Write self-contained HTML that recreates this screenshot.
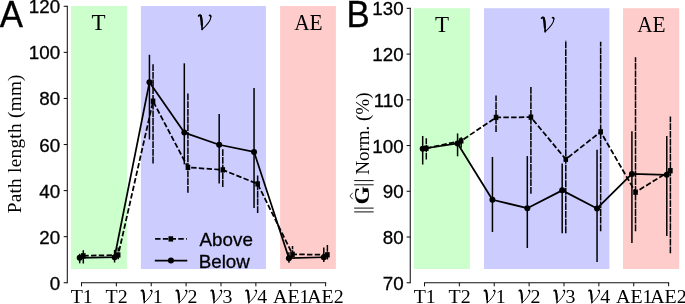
<!DOCTYPE html>
<html><head><meta charset="utf-8"><title>Figure</title>
<style>html,body{margin:0;padding:0;background:#fff}svg{display:block;will-change:transform}text{font-family:"Liberation Sans",sans-serif;fill:#000}.sn,.lg,.pl{stroke:#000;stroke-width:0.3px}.sn{font-size:18.8px}.lg{font-size:18.8px}.pl{font-size:34.8px}.sr{font-family:"Liberation Serif",serif;font-size:19.3px}.sb{font-family:"Liberation Serif",serif;font-size:23px}.yl{font-family:"Liberation Serif",serif;font-size:19.2px}</style></head><body>
<svg width="685" height="304" viewBox="0 0 685 304">
<rect width="685" height="304" fill="#fff"/>
<rect x="70.9" y="6.04" width="56" height="262.96" fill="#ccffcc"/>
<rect x="140.9" y="6.04" width="125.05" height="262.96" fill="#ccccff"/>
<rect x="280.1" y="6.04" width="55.8" height="262.96" fill="#ffcccc"/>
<path d="M67.3,5.75 V283.3" stroke="#111" stroke-width="1.05" fill="none"/>
<path d="M80.95,282.75 H326.14" stroke="#111" stroke-width="1.05" fill="none"/>
<path d="M67.3,282.75 h-3.6" stroke="#111" stroke-width="1.05"/>
<text transform="translate(60.2 289.75) scale(1 0.99)" text-anchor="end" class="sn">0</text>
<path d="M67.3,236.68 h-3.6" stroke="#111" stroke-width="1.05"/>
<text transform="translate(60.2 243.68) scale(1 0.99)" text-anchor="end" class="sn">20</text>
<path d="M67.3,190.6 h-3.6" stroke="#111" stroke-width="1.05"/>
<text transform="translate(60.2 197.6) scale(1 0.99)" text-anchor="end" class="sn">40</text>
<path d="M67.3,144.53 h-3.6" stroke="#111" stroke-width="1.05"/>
<text transform="translate(60.2 151.53) scale(1 0.99)" text-anchor="end" class="sn">60</text>
<path d="M67.3,98.45 h-3.6" stroke="#111" stroke-width="1.05"/>
<text transform="translate(60.2 105.45) scale(1 0.99)" text-anchor="end" class="sn">80</text>
<path d="M67.3,52.38 h-3.6" stroke="#111" stroke-width="1.05"/>
<text transform="translate(60.2 59.38) scale(1 0.99)" text-anchor="end" class="sn">100</text>
<path d="M67.3,6.3 h-3.6" stroke="#111" stroke-width="1.05"/>
<text transform="translate(60.2 13.3) scale(1 0.99)" text-anchor="end" class="sn">120</text>
<path d="M81.5,282.75 v3.6" stroke="#111" stroke-width="1.05"/>
<path d="M116.37,282.75 v3.6" stroke="#111" stroke-width="1.05"/>
<path d="M151.24,282.75 v3.6" stroke="#111" stroke-width="1.05"/>
<path d="M186.11,282.75 v3.6" stroke="#111" stroke-width="1.05"/>
<path d="M220.98,282.75 v3.6" stroke="#111" stroke-width="1.05"/>
<path d="M255.85,282.75 v3.6" stroke="#111" stroke-width="1.05"/>
<path d="M290.72,282.75 v3.6" stroke="#111" stroke-width="1.05"/>
<path d="M325.59,282.75 v3.6" stroke="#111" stroke-width="1.05"/>
<path d="M83.3,263.5 V250.19" stroke="#000" stroke-width="1.5" fill="none" stroke-dasharray="6.8 0.9"/>
<path d="M118.17,259.26 V247.38" stroke="#000" stroke-width="1.5" fill="none" stroke-dasharray="6.8 0.9"/>
<path d="M153.04,163.42 V63.77" stroke="#000" stroke-width="1.5" fill="none" stroke-dasharray="6.8 0.9"/>
<path d="M187.91,192.68 V93.26" stroke="#000" stroke-width="1.5" fill="none" stroke-dasharray="6.8 0.9"/>
<path d="M222.78,186.92 V148.78" stroke="#000" stroke-width="1.5" fill="none" stroke-dasharray="6.8 0.9"/>
<path d="M257.65,213.07 V174.7" stroke="#000" stroke-width="1.5" fill="none" stroke-dasharray="6.8 0.9"/>
<path d="M292.52,256.96 V245.88" stroke="#000" stroke-width="1.5" fill="none" stroke-dasharray="6.8 0.9"/>
<path d="M327.39,259.49 V244.73" stroke="#000" stroke-width="1.5" fill="none" stroke-dasharray="6.8 0.9"/>
<path d="M83.3,255.8 L118.17,254.99 L153.04,101.21 L187.91,167.33 L222.78,169.87 L257.65,183.92 L292.52,254.3 L327.39,254.81" stroke="#000" stroke-width="1.75" fill="none" stroke-linejoin="round" stroke-dasharray="5.45 2.28"/>
<rect x="81" y="253.15" width="4.6" height="5.3"/>
<rect x="115.87" y="252.34" width="4.6" height="5.3"/>
<rect x="150.74" y="98.56" width="4.6" height="5.3"/>
<rect x="185.61" y="164.68" width="4.6" height="5.3"/>
<rect x="220.48" y="167.22" width="4.6" height="5.3"/>
<rect x="255.35" y="181.27" width="4.6" height="5.3"/>
<rect x="290.22" y="251.65" width="4.6" height="5.3"/>
<rect x="325.09" y="252.16" width="4.6" height="5.3"/>
<path d="M79.7,263.31 V253.79" stroke="#000" stroke-width="1.5" fill="none"/>
<path d="M114.57,262.48 V249.9" stroke="#000" stroke-width="1.5" fill="none"/>
<path d="M149.44,139.46 V54.79" stroke="#000" stroke-width="1.5" fill="none"/>
<path d="M184.31,164.34 V63.32" stroke="#000" stroke-width="1.5" fill="none"/>
<path d="M219.18,183.46 V114.12" stroke="#000" stroke-width="1.5" fill="none"/>
<path d="M254.05,207.88 V88.08" stroke="#000" stroke-width="1.5" fill="none"/>
<path d="M288.92,262.71 V252.34" stroke="#000" stroke-width="1.5" fill="none"/>
<path d="M323.79,262.02 V247.39" stroke="#000" stroke-width="1.5" fill="none"/>
<path d="M79.7,257.87 L114.57,257.18 L149.44,82.32 L184.31,132.55 L219.18,144.76 L254.05,151.9 L288.92,258.19 L323.79,257.25" stroke="#000" stroke-width="1.75" fill="none" stroke-linejoin="round"/>
<circle cx="79.7" cy="257.87" r="3"/>
<circle cx="114.57" cy="257.18" r="3"/>
<circle cx="149.44" cy="82.32" r="3"/>
<circle cx="184.31" cy="132.55" r="3"/>
<circle cx="219.18" cy="144.76" r="3"/>
<circle cx="254.05" cy="151.9" r="3"/>
<circle cx="288.92" cy="258.19" r="3"/>
<circle cx="323.79" cy="257.25" r="3"/>
<rect x="413.9" y="8.2" width="56.05" height="260.8" fill="#ccffcc"/>
<rect x="484" y="8.2" width="125.4" height="260.8" fill="#ccccff"/>
<rect x="623" y="8.2" width="56.2" height="260.8" fill="#ffcccc"/>
<path d="M410.25,7.8 V283.3" stroke="#111" stroke-width="1.05" fill="none"/>
<path d="M423.95,282.75 H669.14" stroke="#111" stroke-width="1.05" fill="none"/>
<path d="M410.25,282.75 h-3.6" stroke="#111" stroke-width="1.05"/>
<text transform="translate(403.65 289.85) scale(1 0.99)" text-anchor="end" class="sn">70</text>
<path d="M410.25,237.02 h-3.6" stroke="#111" stroke-width="1.05"/>
<text transform="translate(403.65 244.12) scale(1 0.99)" text-anchor="end" class="sn">80</text>
<path d="M410.25,191.28 h-3.6" stroke="#111" stroke-width="1.05"/>
<text transform="translate(403.65 198.38) scale(1 0.99)" text-anchor="end" class="sn">90</text>
<path d="M410.25,145.55 h-3.6" stroke="#111" stroke-width="1.05"/>
<text transform="translate(403.65 152.65) scale(1 0.99)" text-anchor="end" class="sn">100</text>
<path d="M410.25,99.82 h-3.6" stroke="#111" stroke-width="1.05"/>
<text transform="translate(403.65 106.92) scale(1 0.99)" text-anchor="end" class="sn">110</text>
<path d="M410.25,54.08 h-3.6" stroke="#111" stroke-width="1.05"/>
<text transform="translate(403.65 61.18) scale(1 0.99)" text-anchor="end" class="sn">120</text>
<path d="M410.25,8.35 h-3.6" stroke="#111" stroke-width="1.05"/>
<text transform="translate(403.65 15.45) scale(1 0.99)" text-anchor="end" class="sn">130</text>
<path d="M424.5,282.75 v3.6" stroke="#111" stroke-width="1.05"/>
<path d="M459.37,282.75 v3.6" stroke="#111" stroke-width="1.05"/>
<path d="M494.24,282.75 v3.6" stroke="#111" stroke-width="1.05"/>
<path d="M529.11,282.75 v3.6" stroke="#111" stroke-width="1.05"/>
<path d="M563.98,282.75 v3.6" stroke="#111" stroke-width="1.05"/>
<path d="M598.85,282.75 v3.6" stroke="#111" stroke-width="1.05"/>
<path d="M633.72,282.75 v3.6" stroke="#111" stroke-width="1.05"/>
<path d="M668.59,282.75 v3.6" stroke="#111" stroke-width="1.05"/>
<path d="M426.3,159.6 V138.31" stroke="#000" stroke-width="1.5" fill="none" stroke-dasharray="6.8 0.9"/>
<path d="M461.17,147.71 V137.21" stroke="#000" stroke-width="1.5" fill="none" stroke-dasharray="6.8 0.9"/>
<path d="M496.04,132.07 V95.46" stroke="#000" stroke-width="1.5" fill="none" stroke-dasharray="6.8 0.9"/>
<path d="M530.91,193.81 V86.77" stroke="#000" stroke-width="1.5" fill="none" stroke-dasharray="6.8 0.9"/>
<path d="M565.78,233.14 V40.49" stroke="#000" stroke-width="1.5" fill="none" stroke-dasharray="6.8 0.9"/>
<path d="M600.65,231.31 V41.81" stroke="#000" stroke-width="1.5" fill="none" stroke-dasharray="6.8 0.9"/>
<path d="M635.52,231.31 V57.27" stroke="#000" stroke-width="1.5" fill="none" stroke-dasharray="6.8 0.9"/>
<path d="M670.39,253.27 V116.5" stroke="#000" stroke-width="1.5" fill="none" stroke-dasharray="6.8 0.9"/>
<path d="M426.3,148.29 L461.17,140.89 L496.04,117.42 L530.91,117.2 L565.78,159.27 L600.65,131.83 L635.52,192.2 L670.39,170.7" stroke="#000" stroke-width="1.75" fill="none" stroke-linejoin="round" stroke-dasharray="5.45 2.28"/>
<rect x="424" y="145.64" width="4.6" height="5.3"/>
<rect x="458.87" y="138.24" width="4.6" height="5.3"/>
<rect x="493.74" y="114.77" width="4.6" height="5.3"/>
<rect x="528.61" y="114.55" width="4.6" height="5.3"/>
<rect x="563.48" y="156.62" width="4.6" height="5.3"/>
<rect x="598.35" y="129.18" width="4.6" height="5.3"/>
<rect x="633.22" y="189.55" width="4.6" height="5.3"/>
<rect x="668.09" y="168.05" width="4.6" height="5.3"/>
<path d="M422.7,164.53 V135.95" stroke="#000" stroke-width="1.5" fill="none"/>
<path d="M457.57,156.3 V133.43" stroke="#000" stroke-width="1.5" fill="none"/>
<path d="M492.44,231.99 V156.98" stroke="#000" stroke-width="1.5" fill="none"/>
<path d="M527.31,247.99 V156.07" stroke="#000" stroke-width="1.5" fill="none"/>
<path d="M562.18,233.36 V163.39" stroke="#000" stroke-width="1.5" fill="none"/>
<path d="M597.05,261.94 V149.67" stroke="#000" stroke-width="1.5" fill="none"/>
<path d="M631.92,242.96 V131.37" stroke="#000" stroke-width="1.5" fill="none"/>
<path d="M666.79,236.1 V135.95" stroke="#000" stroke-width="1.5" fill="none"/>
<path d="M422.7,148.75 L457.57,143.49 L492.44,199.74 L527.31,208.2 L562.18,190.37 L597.05,208.43 L631.92,173.9 L666.79,174.82" stroke="#000" stroke-width="1.75" fill="none" stroke-linejoin="round"/>
<circle cx="422.7" cy="148.75" r="3"/>
<circle cx="457.57" cy="143.49" r="3"/>
<circle cx="492.44" cy="199.74" r="3"/>
<circle cx="527.31" cy="208.2" r="3"/>
<circle cx="562.18" cy="190.37" r="3"/>
<circle cx="597.05" cy="208.43" r="3"/>
<circle cx="631.92" cy="173.9" r="3"/>
<circle cx="666.79" cy="174.82" r="3"/>
<text transform="translate(-0.2 26.85) scale(1 1.05)" class="pl">A</text>
<text transform="translate(346.6 26.65) scale(1 1.05)" class="pl">B</text>
<text x="98.64" y="29.75" text-anchor="middle" class="sb">T</text>
<g transform="translate(197.8 30) scale(1)" fill="none" stroke="#000" stroke-linecap="round"><path d="M0.8,-14.1 C1.3,-15 2.3,-15.3 3.0,-14.5 C4.0,-13 4.1,-6 4.3,-0.7" stroke-width="1.7"/><path d="M2.7,-14.4 C3.6,-13 3.8,-9 4.0,-5" stroke-width="2.2"/><path d="M4.2,-0.4 C8,-3.8 12.9,-9.6 13.1,-13.0 C13.2,-14.4 12.5,-15.0 11.8,-14.7" stroke-width="1.1"/><path d="M12.9,-13.6 C12.9,-14.7 12.2,-15.0 11.7,-14.5" stroke-width="1.6"/></g>
<text transform="translate(308.4 29.7) scale(0.93 1.03)" text-anchor="middle" class="sb">AE</text>
<text x="442.13" y="32" text-anchor="middle" class="sb">T</text>
<g transform="translate(540.8 32.25) scale(1)" fill="none" stroke="#000" stroke-linecap="round"><path d="M0.8,-14.1 C1.3,-15 2.3,-15.3 3.0,-14.5 C4.0,-13 4.1,-6 4.3,-0.7" stroke-width="1.7"/><path d="M2.7,-14.4 C3.6,-13 3.8,-9 4.0,-5" stroke-width="2.2"/><path d="M4.2,-0.4 C8,-3.8 12.9,-9.6 13.1,-13.0 C13.2,-14.4 12.5,-15.0 11.8,-14.7" stroke-width="1.1"/><path d="M12.9,-13.6 C12.9,-14.7 12.2,-15.0 11.7,-14.5" stroke-width="1.6"/></g>
<text transform="translate(651.4 31.95) scale(0.93 1.03)" text-anchor="middle" class="sb">AE</text>
<text transform="translate(81.7 302.7) scale(1.03 1)" text-anchor="middle" class="sr">T1</text>
<text transform="translate(116.57 302.7) scale(1.03 1)" text-anchor="middle" class="sr">T2</text>
<g transform="translate(140.54 303.2) scale(0.87)" fill="none" stroke="#000" stroke-linecap="round"><path d="M0.8,-14.1 C1.3,-15 2.3,-15.3 3.0,-14.5 C4.0,-13 4.1,-6 4.3,-0.7" stroke-width="1.7"/><path d="M2.7,-14.4 C3.6,-13 3.8,-9 4.0,-5" stroke-width="2.2"/><path d="M4.2,-0.4 C8,-3.8 12.9,-9.6 13.1,-13.0 C13.2,-14.4 12.5,-15.0 11.8,-14.7" stroke-width="1.1"/><path d="M12.9,-13.6 C12.9,-14.7 12.2,-15.0 11.7,-14.5" stroke-width="1.6"/></g>
<text transform="translate(152.64 302.7) scale(1.03 1)" class="sr">1</text>
<g transform="translate(175.41 303.2) scale(0.87)" fill="none" stroke="#000" stroke-linecap="round"><path d="M0.8,-14.1 C1.3,-15 2.3,-15.3 3.0,-14.5 C4.0,-13 4.1,-6 4.3,-0.7" stroke-width="1.7"/><path d="M2.7,-14.4 C3.6,-13 3.8,-9 4.0,-5" stroke-width="2.2"/><path d="M4.2,-0.4 C8,-3.8 12.9,-9.6 13.1,-13.0 C13.2,-14.4 12.5,-15.0 11.8,-14.7" stroke-width="1.1"/><path d="M12.9,-13.6 C12.9,-14.7 12.2,-15.0 11.7,-14.5" stroke-width="1.6"/></g>
<text transform="translate(187.51 302.7) scale(1.03 1)" class="sr">2</text>
<g transform="translate(210.28 303.2) scale(0.87)" fill="none" stroke="#000" stroke-linecap="round"><path d="M0.8,-14.1 C1.3,-15 2.3,-15.3 3.0,-14.5 C4.0,-13 4.1,-6 4.3,-0.7" stroke-width="1.7"/><path d="M2.7,-14.4 C3.6,-13 3.8,-9 4.0,-5" stroke-width="2.2"/><path d="M4.2,-0.4 C8,-3.8 12.9,-9.6 13.1,-13.0 C13.2,-14.4 12.5,-15.0 11.8,-14.7" stroke-width="1.1"/><path d="M12.9,-13.6 C12.9,-14.7 12.2,-15.0 11.7,-14.5" stroke-width="1.6"/></g>
<text transform="translate(222.38 302.7) scale(1.03 1)" class="sr">3</text>
<g transform="translate(245.15 303.2) scale(0.87)" fill="none" stroke="#000" stroke-linecap="round"><path d="M0.8,-14.1 C1.3,-15 2.3,-15.3 3.0,-14.5 C4.0,-13 4.1,-6 4.3,-0.7" stroke-width="1.7"/><path d="M2.7,-14.4 C3.6,-13 3.8,-9 4.0,-5" stroke-width="2.2"/><path d="M4.2,-0.4 C8,-3.8 12.9,-9.6 13.1,-13.0 C13.2,-14.4 12.5,-15.0 11.8,-14.7" stroke-width="1.1"/><path d="M12.9,-13.6 C12.9,-14.7 12.2,-15.0 11.7,-14.5" stroke-width="1.6"/></g>
<text transform="translate(257.25 302.7) scale(1.03 1)" class="sr">4</text>
<text transform="translate(291.32 302.7) scale(1.03 1)" text-anchor="middle" class="sr">AE1</text>
<text transform="translate(325.39 302.7) scale(1.03 1)" text-anchor="middle" class="sr">AE2</text>
<text transform="translate(424.7 302.7) scale(1.03 1)" text-anchor="middle" class="sr">T1</text>
<text transform="translate(459.57 302.7) scale(1.03 1)" text-anchor="middle" class="sr">T2</text>
<g transform="translate(483.54 303.2) scale(0.87)" fill="none" stroke="#000" stroke-linecap="round"><path d="M0.8,-14.1 C1.3,-15 2.3,-15.3 3.0,-14.5 C4.0,-13 4.1,-6 4.3,-0.7" stroke-width="1.7"/><path d="M2.7,-14.4 C3.6,-13 3.8,-9 4.0,-5" stroke-width="2.2"/><path d="M4.2,-0.4 C8,-3.8 12.9,-9.6 13.1,-13.0 C13.2,-14.4 12.5,-15.0 11.8,-14.7" stroke-width="1.1"/><path d="M12.9,-13.6 C12.9,-14.7 12.2,-15.0 11.7,-14.5" stroke-width="1.6"/></g>
<text transform="translate(495.64 302.7) scale(1.03 1)" class="sr">1</text>
<g transform="translate(518.41 303.2) scale(0.87)" fill="none" stroke="#000" stroke-linecap="round"><path d="M0.8,-14.1 C1.3,-15 2.3,-15.3 3.0,-14.5 C4.0,-13 4.1,-6 4.3,-0.7" stroke-width="1.7"/><path d="M2.7,-14.4 C3.6,-13 3.8,-9 4.0,-5" stroke-width="2.2"/><path d="M4.2,-0.4 C8,-3.8 12.9,-9.6 13.1,-13.0 C13.2,-14.4 12.5,-15.0 11.8,-14.7" stroke-width="1.1"/><path d="M12.9,-13.6 C12.9,-14.7 12.2,-15.0 11.7,-14.5" stroke-width="1.6"/></g>
<text transform="translate(530.51 302.7) scale(1.03 1)" class="sr">2</text>
<g transform="translate(553.28 303.2) scale(0.87)" fill="none" stroke="#000" stroke-linecap="round"><path d="M0.8,-14.1 C1.3,-15 2.3,-15.3 3.0,-14.5 C4.0,-13 4.1,-6 4.3,-0.7" stroke-width="1.7"/><path d="M2.7,-14.4 C3.6,-13 3.8,-9 4.0,-5" stroke-width="2.2"/><path d="M4.2,-0.4 C8,-3.8 12.9,-9.6 13.1,-13.0 C13.2,-14.4 12.5,-15.0 11.8,-14.7" stroke-width="1.1"/><path d="M12.9,-13.6 C12.9,-14.7 12.2,-15.0 11.7,-14.5" stroke-width="1.6"/></g>
<text transform="translate(565.38 302.7) scale(1.03 1)" class="sr">3</text>
<g transform="translate(588.15 303.2) scale(0.87)" fill="none" stroke="#000" stroke-linecap="round"><path d="M0.8,-14.1 C1.3,-15 2.3,-15.3 3.0,-14.5 C4.0,-13 4.1,-6 4.3,-0.7" stroke-width="1.7"/><path d="M2.7,-14.4 C3.6,-13 3.8,-9 4.0,-5" stroke-width="2.2"/><path d="M4.2,-0.4 C8,-3.8 12.9,-9.6 13.1,-13.0 C13.2,-14.4 12.5,-15.0 11.8,-14.7" stroke-width="1.1"/><path d="M12.9,-13.6 C12.9,-14.7 12.2,-15.0 11.7,-14.5" stroke-width="1.6"/></g>
<text transform="translate(600.25 302.7) scale(1.03 1)" class="sr">4</text>
<text transform="translate(634.32 302.7) scale(1.03 1)" text-anchor="middle" class="sr">AE1</text>
<text transform="translate(668.39 302.7) scale(1.03 1)" text-anchor="middle" class="sr">AE2</text>
<text transform="translate(20.6 213.3) rotate(-90)" class="yl" style="letter-spacing:0.3px">Path length (mm)</text>
<path d="M354.2,211.9 H373.6" stroke="#000" stroke-width="0.95"/>
<path d="M354.2,208.1 H373.6" stroke="#000" stroke-width="0.95"/>
<path d="M354.2,184.8 H373.6" stroke="#000" stroke-width="0.95"/>
<path d="M354.2,180.6 H373.6" stroke="#000" stroke-width="0.95"/>
<text transform="translate(369.1 204.4) rotate(-90) scale(1.16 1)" class="yl" style="font-weight:bold;font-size:20.3px">G</text>
<path d="M352.7,199.2 L349.9,196 L352.7,192.8" fill="none" stroke="#000" stroke-width="0.8"/>
<text transform="translate(369.1 174.8) rotate(-90)" class="yl" style="letter-spacing:-0.1px">Norm. (%)</text>
<path d="M155.1,238.9 H186.8" stroke="#000" stroke-width="1.75" stroke-dasharray="5.45 2.28"/>
<rect x="168.5" y="236.25" width="4.6" height="5.3"/>
<text transform="translate(199.6 245.6) scale(1 0.96)" class="lg">Above</text>
<path d="M154.8,260.5 H187.3" stroke="#000" stroke-width="1.75"/>
<circle cx="170.95" cy="260.45" r="3"/>
<text transform="translate(198.7 267.6) scale(1 0.96)" class="lg">Below</text>
</svg></body></html>
